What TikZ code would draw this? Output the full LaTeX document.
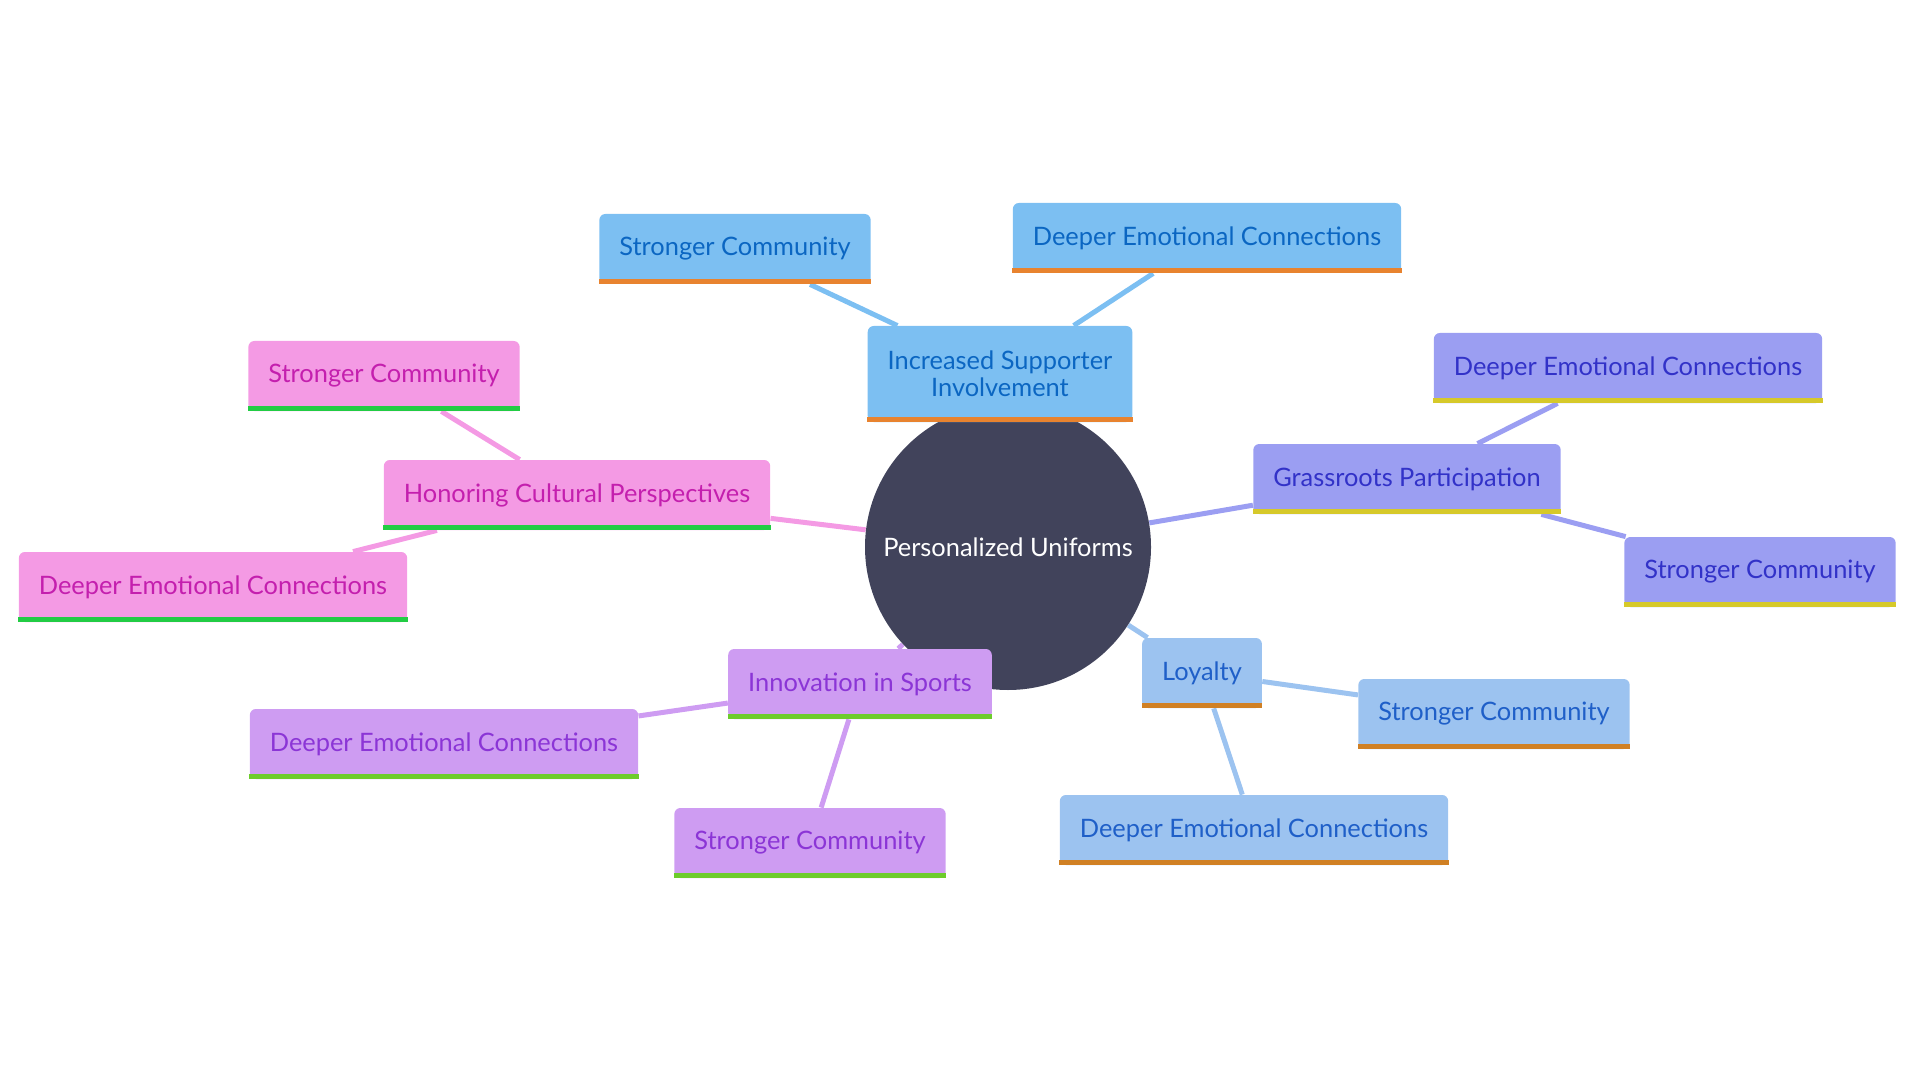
\documentclass[tikz,border=0pt]{standalone}
\usepackage{fontspec}
\setmainfont{Lato}
\usetikzlibrary{backgrounds}

\definecolor{hubfill}{HTML}{41435B}
\definecolor{supfill}{HTML}{7CBFF2}
\definecolor{suptext}{HTML}{0B66C2}
\definecolor{supline}{HTML}{E8832F}
\definecolor{culfill}{HTML}{F49AE4}
\definecolor{cultext}{HTML}{C41FAE}
\definecolor{culline}{HTML}{22CC44}
\definecolor{grafill}{HTML}{9B9EF2}
\definecolor{gratext}{HTML}{3232C8}
\definecolor{graline}{HTML}{D6C92A}
\definecolor{loyfill}{HTML}{9CC3F0}
\definecolor{loytext}{HTML}{1F5FC8}
\definecolor{loyline}{HTML}{D08024}
\definecolor{innfill}{HTML}{CE9CF2}
\definecolor{inntext}{HTML}{8B35D6}
\definecolor{innline}{HTML}{6DCC2C}

\tikzset{
  leaf/.style={rounded corners=3pt, minimum height=35pt, inner xsep=10pt,
    font=\fontsize{12.7}{13.5}\selectfont},
  supbox/.style={leaf, fill=supfill, text=suptext},
  culbox/.style={leaf, fill=culfill, text=cultext},
  grabox/.style={leaf, fill=grafill, text=gratext},
  loybox/.style={leaf, fill=loyfill, text=loytext},
  innbox/.style={leaf, fill=innfill, text=inntext},
  link/.style={line width=2.5pt}
}

\begin{document}
\begin{tikzpicture}[x=0.5pt, y=-0.5pt]

\useasboundingbox (0,0) rectangle (1920,1080);

\node[circle, fill=hubfill, minimum size=143pt, text=white,
  font=\fontsize{12.7}{15}\selectfont] (hub) at (1008,547) {Personalized Uniforms};

\node[supbox, minimum height=48pt, align=center] (isi) at (1000,374) {Increased Supporter\\Involvement};
\node[supbox] (isiA) at (735,249) {Stronger Community};
\node[supbox] (isiB) at (1207,238) {Deeper Emotional Connections};

\node[culbox] (hcp) at (577,495) {Honoring Cultural Perspectives};
\node[culbox] (hcpA) at (384,376) {Stronger Community};
\node[culbox] (hcpB) at (213,587) {Deeper Emotional Connections};

\node[grabox] (gp) at (1407,479) {Grassroots Participation};
\node[grabox] (gpA) at (1628,368) {Deeper Emotional Connections};
\node[grabox] (gpB) at (1760,572) {Stronger Community};

\node[loybox] (loy) at (1202,673) {Loyalty};
\node[loybox] (loyA) at (1494,714) {Stronger Community};
\node[loybox] (loyB) at (1254,830) {Deeper Emotional Connections};

\node[innbox] (inn) at (860,684) {Innovation in Sports};
\node[innbox] (innA) at (444,744) {Deeper Emotional Connections};
\node[innbox] (innB) at (810,843) {Stronger Community};

\foreach \n/\c in {isi/supline, isiA/supline, isiB/supline,
                   hcp/culline, hcpA/culline, hcpB/culline,
                   gp/graline, gpA/graline, gpB/graline,
                   loy/loyline, loyA/loyline, loyB/loyline,
                   inn/innline, innA/innline, innB/innline}
  \fill[\c] (\n.south west) rectangle ([yshift=2.5pt]\n.south east);

\begin{pgfonlayer}{background}
\draw[link, supfill] (hub) -- (isi) (isi) -- (isiA) (isi) -- (isiB);
\draw[link, culfill] (hub) -- (hcp) (hcp) -- (hcpA) (hcp) -- (hcpB);
\draw[link, grafill] (hub) -- (gp) (gp) -- (gpA) (gp) -- (gpB);
\draw[link, loyfill] (hub) -- (loy) (loy) -- (loyA) (loy) -- (loyB);
\draw[link, innfill] (hub) -- (inn) (inn) -- (innA) (inn) -- (innB);
\end{pgfonlayer}

\end{tikzpicture}
\end{document}
